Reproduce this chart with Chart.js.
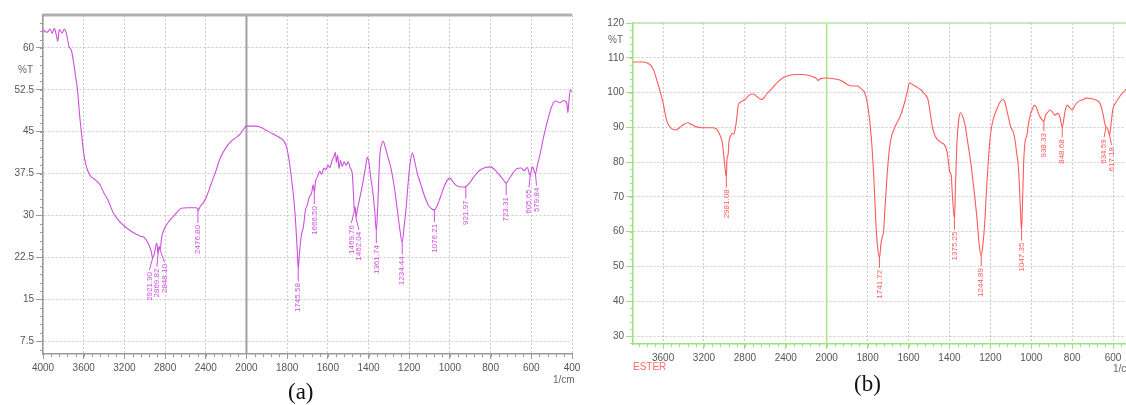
<!DOCTYPE html>
<html>
<head>
<meta charset="utf-8">
<script src="https://cdn.jsdelivr.net/npm/chart.js@4.4.1/dist/chart.umd.min.js"></script>
<style>
  html, body { margin: 0; padding: 0; background: #fff; overflow: hidden; width: 1126px; height: 405px; }
  .box { position: absolute; top: 0; }
  .box canvas { filter: blur(0.3px); }
  .txt { position: absolute; font-family: 'Liberation Sans', Arial, sans-serif; white-space: nowrap; line-height: 1; }
  .cap { position: absolute; font-family: 'Liberation Serif', 'Times New Roman', serif; font-size: 23px; color: #111; line-height: 1; }
</style>
</head>
<body>
<div class="box" id="boxA" style="left:0; width:585px; height:380px;"><canvas id="chartA"></canvas></div>
<div class="box" id="boxB" style="left:600px; width:570px; height:370px;"><canvas id="chartB"></canvas></div>

<span class="txt" style="left:18px; top:65px; font-size:10px; color:#666;">%T</span>
<span class="txt" style="left:553px; top:375px; font-size:10px; color:#666;">1/cm</span>
<span class="cap" style="left:288px; top:380px;">(a)</span>

<span class="txt" style="left:608px; top:35px; font-size:10px; color:#666;">%T</span>
<span class="txt" style="left:1113px; top:364px; font-size:10px; color:#666;">1/cm</span>
<span class="txt" style="left:633px; top:362px; font-size:10px; color:#ff6a6a;">ESTER</span>
<span class="cap" style="left:854px; top:372px;">(b)</span>

<script>
// Spectre (a) : nombre d'onde (1/cm) et transmittance (%T)
const wnA = [4000, 3960, 3930, 3910, 3890, 3870, 3855, 3840, 3810, 3790, 3770, 3745, 3720, 3700, 3680, 3660, 3640, 3620, 3600, 3580,
  3560, 3530, 3480, 3440, 3400, 3360, 3310, 3250, 3180, 3110, 3040, 3000, 2960, 2935, 2921.9, 2900, 2885, 2875, 2869.82, 2858,
  2848.1, 2835, 2810, 2760, 2700, 2640, 2580, 2500, 2480, 2476.8, 2455, 2420, 2390, 2350, 2300, 2260, 2200, 2150, 2100, 2060,
  2030, 2000, 1960, 1930, 1900, 1870, 1840, 1820, 1805, 1790, 1775, 1765, 1757, 1750, 1745.58, 1740, 1730, 1720, 1710, 1700,
  1692, 1680, 1672, 1666.5, 1660, 1650, 1640, 1630, 1620, 1610, 1600, 1590, 1580, 1570, 1563, 1558, 1552, 1545, 1538, 1530,
  1520, 1510, 1500, 1490, 1480, 1473, 1469.76, 1465, 1462.04, 1455, 1445, 1430, 1415, 1406, 1398, 1390, 1380, 1370, 1361.74, 1355,
  1345, 1335, 1328, 1320, 1305, 1290, 1275, 1260, 1245, 1234.44, 1225, 1215, 1205, 1195, 1185, 1175, 1160, 1145, 1125, 1105,
  1090, 1076.21, 1060, 1045, 1030, 1015, 1000, 985, 965, 940, 921.97, 900, 875, 850, 825, 800, 780, 760, 740, 723.31,
  710, 690, 670, 650, 635, 620, 605.65, 595, 579.84, 570, 555, 540, 520, 500, 480, 460, 440, 425, 420, 415,
  408, 400];
const tA = [63.2, 62.8, 63.4, 62.6, 63.5, 62.4, 61.2, 63.3, 62.7, 63.4, 62.6, 60.3, 59.5, 57.5, 55.0, 52.3, 48.0, 44.5, 41.2, 39.2,
  38.0, 37.0, 36.3, 35.5, 34.0, 32.7, 30.5, 29.0, 27.8, 26.9, 26.3, 26.0, 24.8, 23.5, 22.4, 23.6, 25.0, 24.3, 23.0, 24.5,
  23.8, 26.0, 27.5, 29.0, 30.2, 31.3, 31.4, 31.4, 31.2, 30.8, 31.6, 32.4, 33.5, 35.5, 38.0, 40.2, 42.2, 43.3, 44.0, 44.6,
  45.4, 46.0, 46.0, 45.8, 45.2, 44.6, 44.0, 43.5, 42.5, 39.8, 35.5, 32.0, 28.0, 23.5, 20.4, 23.0, 26.5, 28.0, 31.0, 32.0,
  33.2, 34.0, 35.5, 34.2, 36.2, 37.0, 37.9, 37.4, 38.5, 38.2, 39.0, 38.6, 39.8, 40.6, 41.3, 39.5, 40.8, 38.4, 39.9, 38.8,
  39.6, 39.0, 39.6, 38.5, 37.5, 33.0, 30.8, 31.5, 29.6, 31.0, 32.8, 35.5, 38.6, 40.4, 39.5, 37.0, 34.5, 31.0, 27.2, 31.5,
  40.5, 42.8, 43.3, 42.5, 40.5, 38.5, 35.5, 31.5, 27.2, 25.2, 28.0, 31.5, 36.0, 39.5, 41.2, 40.0, 37.5, 35.8, 33.5, 31.8,
  31.2, 31.0, 32.0, 33.5, 35.0, 36.2, 36.7, 36.0, 35.3, 35.1, 35.2, 36.0, 37.3, 38.2, 38.6, 38.7, 38.2, 37.4, 36.5, 35.8,
  36.5, 37.6, 38.4, 38.5, 38.0, 38.6, 37.2, 38.7, 37.5, 39.0, 41.3, 44.0, 47.0, 49.5, 50.5, 50.2, 50.6, 50.0, 48.4, 50.5,
  52.5, 52.2];
const peakWnA = [2921.9, 2869.82, 2848.1, 2476.8, 1745.58, 1666.5, 1469.76, 1462.04, 1361.74, 1234.44, 1076.21, 921.97, 723.31, 605.65, 579.84];
const peakTextA = ['2921.90', '2869.82', '2848.10', '2476.80', '1745.58', '1666.50', '1469.76', '1462.04', '1361.74', '1234.44', '1076.21', '921.97', '723.31', '605.65', '579.84'];
const xTicksA = [4000, 3600, 3200, 2800, 2400, 2000, 1800, 1600, 1400, 1200, 1000, 800, 600, 400];
const yTicksA = [7.5, 15, 22.5, 30, 37.5, 45, 52.5, 60];

// Spectre (b) : ESTER
const wnB = [3900, 3850, 3800, 3760, 3720, 3690, 3660, 3630, 3600, 3580, 3560, 3530, 3500, 3470, 3440, 3400, 3360, 3320, 3280, 3230,
  3180, 3120, 3080, 3060, 3040, 3020, 3000, 2981.08, 2975, 2965, 2955, 2940, 2925, 2910, 2895, 2880, 2865, 2840, 2800, 2760,
  2720, 2680, 2640, 2620, 2580, 2540, 2480, 2420, 2360, 2300, 2240, 2180, 2130, 2100, 2085, 2060, 2000, 1960, 1930, 1900,
  1880, 1850, 1830, 1815, 1800, 1790, 1780, 1770, 1760, 1752, 1741.72, 1735, 1728, 1722, 1715, 1705, 1695, 1685, 1670, 1655,
  1640, 1620, 1605, 1595, 1580, 1560, 1540, 1520, 1505, 1495, 1483, 1470, 1455, 1440, 1425, 1410, 1398, 1392, 1385, 1375.25,
  1370, 1363, 1355, 1346, 1338, 1325, 1310, 1295, 1280, 1265, 1255, 1244.89, 1237, 1228, 1218, 1208, 1198, 1185, 1170, 1155,
  1140, 1130, 1120, 1110, 1100, 1090, 1080, 1070, 1063, 1057, 1052, 1047.35, 1042, 1037, 1030, 1022, 1015, 1005, 995, 985,
  975, 965, 955, 938.33, 930, 920, 910, 898, 885, 870, 860, 848.68, 842, 835, 825, 810, 800, 785, 770, 750,
  730, 710, 690, 675, 663, 650, 640, 634.59, 628, 617.18, 610, 600, 590, 575, 560, 540, 520, 500, 480, 460,
  440, 420, 400];
const tB = [108.8, 108.8, 108.8, 108.6, 107.8, 106.3, 103.5, 100.5, 97.0, 94.0, 91.5, 90.0, 89.4, 89.3, 89.9, 90.8, 91.3, 90.8, 90.2, 89.9,
  89.9, 89.9, 89.6, 88.7, 87.5, 85.5, 80.0, 75.6, 81.0, 82.0, 86.0, 87.5, 88.3, 88.0, 89.5, 92.5, 96.3, 97.3, 98.0, 99.2,
  99.6, 98.8, 98.0, 98.3, 99.8, 101.0, 103.0, 104.4, 105.0, 105.2, 105.2, 105.0, 104.5, 104.0, 103.5, 104.0, 104.2, 103.9, 103.5, 102.3,
  101.9, 101.9, 101.0, 100.0, 96.5, 92.0, 85.5, 76.0, 63.0, 56.0, 52.5, 56.5, 58.5, 60.0, 67.0, 76.0, 83.0, 87.0, 89.6, 91.5,
  93.3, 97.0, 100.5, 102.8, 102.3, 101.6, 100.8, 99.5, 98.0, 94.5, 90.0, 87.5, 86.3, 85.6, 85.0, 82.5, 77.0, 76.5, 70.0, 63.5,
  74.0, 86.0, 92.0, 94.2, 93.5, 91.0, 85.5, 79.5, 72.0, 63.5, 56.5, 53.0, 56.0, 62.0, 73.0, 82.0, 88.5, 92.5, 95.0, 97.0,
  98.0, 97.5, 95.0, 92.5, 90.0, 89.0, 86.5, 82.0, 78.5, 72.0, 65.0, 60.3, 70.0, 80.0, 86.0, 87.5, 90.5, 93.5, 95.2, 96.3,
  95.8, 94.0, 92.8, 91.8, 93.5, 94.3, 95.0, 94.5, 93.5, 94.0, 93.0, 90.0, 92.0, 94.5, 96.4, 95.5, 95.0, 96.5, 97.4, 97.9,
  98.4, 98.3, 98.0, 97.6, 96.8, 94.0, 91.0, 90.0, 89.8, 87.8, 91.0, 95.5, 96.8, 98.2, 99.5, 100.7, 102.0, 103.5, 104.5, 105.5,
  106.0, 106.5, 107.0];
const peakWnB = [2981.08, 1741.72, 1375.25, 1244.89, 1047.35, 938.33, 848.68, 634.59, 617.18];
const peakTextB = ['2981.08', '1741.72', '1375.25', '1244.89', '1047.35', '938.33', '848.68', '634.59', '617.18'];
const xTicksB = [3600, 3200, 2800, 2400, 2000, 1800, 1600, 1400, 1200, 1000, 800, 600, 400];
const yTicksB = [30, 40, 50, 60, 70, 80, 90, 100, 110, 120];

// L'axe des x est comprimé de moitié au-dessus de 2000 1/cm
function toAxis(w) {
    return w <= 2000 ? w : 2000 + (w - 2000) / 2;
}
function fromAxis(v) {
    return v <= 2000 ? v : 2000 + (v - 2000) * 2;
}

/**
 * Écarte les étiquettes trop proches (groupes centrés sur leur moyenne)
 */
function spreadLabels(xs, gap) {
    const out = xs.slice();
    let start = 0;
    for (let i = 1; i <= xs.length; i++) {
        if (i === xs.length || xs[i] - xs[i - 1] >= gap) {
            const n = i - start;
            if (n > 1) {
                let mean = 0;
                for (let k = start; k < i; k++) mean += xs[k];
                mean /= n;
                for (let k = start; k < i; k++) out[k] = mean + (k - start - (n - 1) / 2) * gap;
            }
            start = i;
        }
    }
    return out;
}

/**
 * Décorations : graduations secondaires, ligne 2000, bord supérieur, étiquettes de pics
 */
const decorPlugin = {
    id: 'decor',
    beforeDatasetsDraw(chart, args, opts) {
        const ctx = chart.ctx;
        const area = chart.chartArea;
        const x = chart.scales.x.getPixelForValue(2000);
        ctx.save();
        ctx.strokeStyle = opts.splitColor;
        ctx.lineWidth = opts.splitWidth;
        ctx.beginPath();
        ctx.moveTo(x, area.top);
        ctx.lineTo(x, area.bottom);
        ctx.stroke();
        ctx.restore();
    },
    afterDatasetsDraw(chart, args, opts) {
        const ctx = chart.ctx;
        const area = chart.chartArea;
        const xs = chart.scales.x;
        const ys = chart.scales.y;
        ctx.save();

        // bord supérieur
        ctx.strokeStyle = opts.topColor;
        ctx.lineWidth = opts.topWidth;
        ctx.beginPath();
        ctx.moveTo(area.left, area.top);
        ctx.lineTo(area.right, area.top);
        ctx.stroke();

        // graduations secondaires
        ctx.strokeStyle = opts.minorColor;
        ctx.lineWidth = 1;
        ctx.beginPath();
        for (let v = Math.ceil(xs.min / 40) * 40; v <= xs.max; v += 40) {
            const px = Math.round(xs.getPixelForValue(v)) + 0.5;
            ctx.moveTo(px, area.bottom);
            ctx.lineTo(px, area.bottom + 3);
        }
        const step = opts.minorY;
        for (let v = Math.ceil(ys.min / step) * step; v <= ys.max; v += step) {
            const py = Math.round(ys.getPixelForValue(v)) + 0.5;
            ctx.moveTo(area.left - 3, py);
            ctx.lineTo(area.left, py);
        }
        ctx.stroke();

        // étiquettes des pics
        const meta = chart.getDatasetMeta(0);
        const pts = opts.peaks.map(p => meta.data[opts.wn.indexOf(p)]);
        const lx = spreadLabels(pts.map(pt => pt.x), 7.5);
        ctx.strokeStyle = opts.labelColor;
        ctx.fillStyle = opts.labelColor;
        ctx.lineWidth = 1;
        ctx.font = '8px "Liberation Sans", Arial, sans-serif';
        ctx.textAlign = 'right';
        ctx.textBaseline = 'middle';
        pts.forEach(function(pt, i) {
            const y2 = pt.y + opts.leader;
            ctx.beginPath();
            ctx.moveTo(pt.x, pt.y);
            ctx.lineTo(lx[i], y2);
            ctx.stroke();
            ctx.save();
            ctx.translate(lx[i], y2 + 2);
            ctx.rotate(-Math.PI / 2);
            ctx.fillText(opts.texts[i], 0, 0);
            ctx.restore();
        });
        ctx.restore();
    }
};

function makeChart(canvasId, cfg) {
    const tickFont = { family: '"Liberation Sans", Arial, sans-serif', size: 10 };
    return new Chart(document.getElementById(canvasId), {
        type: 'line',
        data: {
            datasets: [{
                data: cfg.wn.map((w, i) => ({ x: toAxis(w), y: cfg.t[i] })),
                borderColor: cfg.color,
                borderWidth: 1.1,
                pointRadius: 0,
                cubicInterpolationMode: 'monotone',
                fill: false
            }]
        },
        options: {
            responsive: true,
            maintainAspectRatio: false,
            animation: false,
            events: [],
            layout: { padding: { top: cfg.padTop, right: cfg.padRight, left: 0, bottom: 0 } },
            plugins: {
                legend: { display: false },
                tooltip: { enabled: false },
                decor: {
                    wn: cfg.wn,
                    peaks: cfg.peaks,
                    texts: cfg.texts,
                    labelColor: cfg.color,
                    leader: cfg.leader,
                    splitColor: cfg.splitColor,
                    splitWidth: cfg.splitWidth,
                    topColor: cfg.topColor,
                    topWidth: cfg.topWidth,
                    minorColor: cfg.axisColor,
                    minorY: cfg.minorY
                }
            },
            scales: {
                x: {
                    type: 'linear',
                    reverse: true,
                    min: cfg.xMin,
                    max: cfg.xMax,
                    afterBuildTicks: (scale) => { scale.ticks = cfg.xTicks.map(w => ({ value: toAxis(w) })); },
                    afterFit: (scale) => { scale.height = cfg.xHeight; },
                    ticks: {
                        callback: (v) => String(fromAxis(v)),
                        autoSkip: false,
                        maxRotation: 0,
                        color: '#555',
                        font: tickFont,
                        padding: 3
                    },
                    grid: { color: 'rgba(0,0,0,0.2)', tickColor: cfg.axisColor, tickLength: 5 },
                    border: { color: cfg.axisColor, width: 1.5, dash: [2, 2] }
                },
                y: {
                    min: cfg.yMin,
                    max: cfg.yMax,
                    afterBuildTicks: (scale) => { scale.ticks = cfg.yTicks.map(v => ({ value: v })); },
                    afterFit: (scale) => { scale.width = cfg.yWidth; },
                    ticks: {
                        callback: (v) => String(v),
                        color: '#555',
                        font: tickFont,
                        padding: 2
                    },
                    grid: { color: 'rgba(0,0,0,0.2)', tickColor: cfg.axisColor, tickLength: 7 },
                    border: { color: cfg.axisColor, width: 1.5, dash: [2, 2] }
                }
            }
        },
        plugins: [decorPlugin]
    });
}

document.addEventListener('DOMContentLoaded', function() {
    makeChart('chartA', {
        wn: wnA, t: tA, peaks: peakWnA, texts: peakTextA,
        color: '#cc4fdc',
        axisColor: '#9a9a9a',
        splitColor: '#a0a0a0', splitWidth: 2,
        topColor: '#b0b0b0', topWidth: 3,
        xTicks: xTicksA, yTicks: yTicksA,
        xMin: 400, xMax: toAxis(4000),
        yMin: 5.2, yMax: 65.9,
        minorY: 1.5,
        padTop: 15, padRight: 13, xHeight: 26, yWidth: 43,
        leader: 12
    });
    makeChart('chartB', {
        wn: wnB, t: tB, peaks: peakWnB, texts: peakTextB,
        color: '#ff5a5a',
        axisColor: '#9ee07a',
        splitColor: '#a8e68a', splitWidth: 1.5,
        topColor: '#b8e8a0', topWidth: 1.5,
        xTicks: xTicksB, yTicks: yTicksB,
        xMin: 400, xMax: toAxis(3894),
        yMin: 27.7, yMax: 120,
        minorY: 2,
        padTop: 23, padRight: 16, xHeight: 26, yWidth: 33,
        leader: 10
    });
});
</script>
</body>
</html>
